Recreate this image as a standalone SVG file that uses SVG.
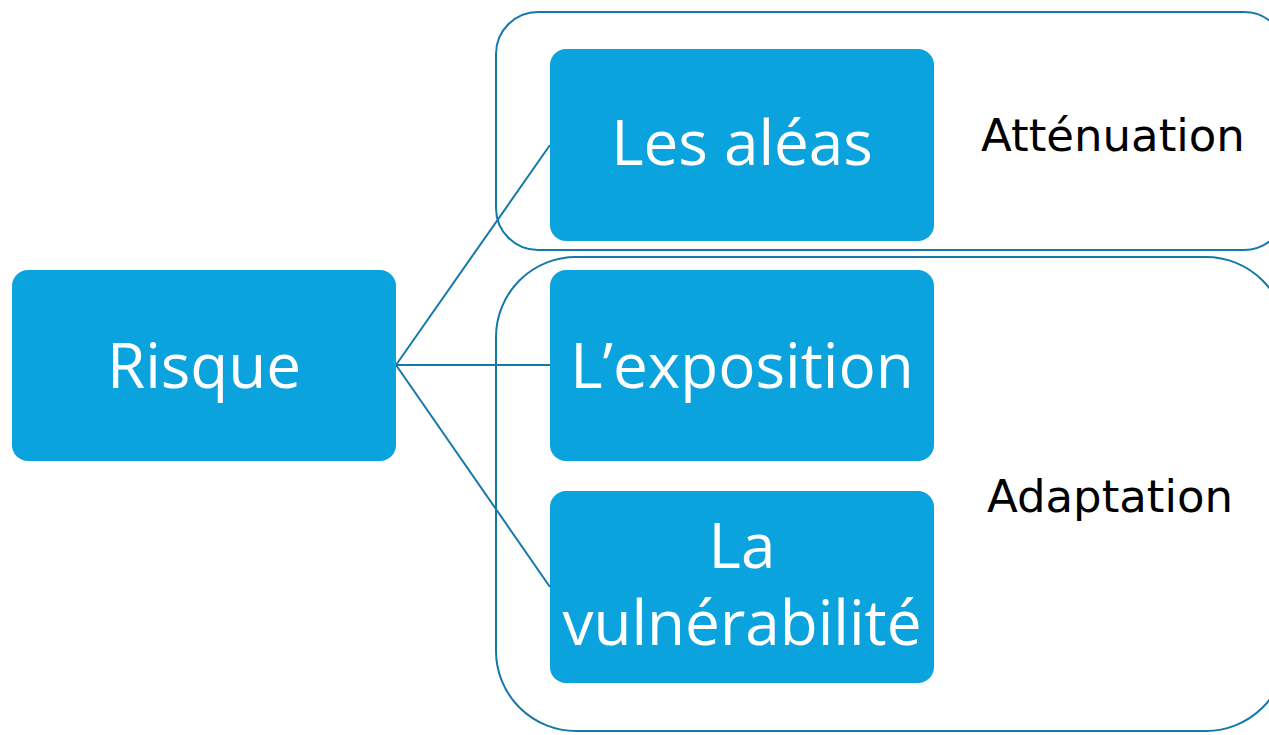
<svg xmlns="http://www.w3.org/2000/svg" width="1269" height="735" viewBox="0 0 1269 735">
<style>
.grp{fill:none;stroke:#1479A8;stroke-width:2}
.node{fill:#0BA3DE}
.nt{fill:#fff;font-family:"Open Sans","Noto Sans",sans-serif;font-size:62px;text-anchor:middle}
.gt{fill:#000;font-family:"DejaVu Sans",sans-serif;font-size:45px;text-anchor:middle}
.conn{stroke:#1479A8;stroke-width:2;fill:none}
</style>
<rect fill="#fff" width="1269" height="735"/>
<g id="group-attenuation">
<rect class="grp" x="496" y="12" width="790" height="238" rx="42"/>
<text class="gt" x="1113" y="151">Atténuation</text>
</g>
<g id="group-adaptation">
<rect class="grp" x="496" y="257" width="790" height="474" rx="80"/>
<text class="gt" x="1110" y="512">Adaptation</text>
</g>
<g id="connectors">
<line class="conn" x1="396" y1="365" x2="550" y2="145"/>
<line class="conn" x1="396" y1="365" x2="550" y2="365"/>
<line class="conn" x1="396" y1="365" x2="550" y2="587"/>
</g>
<g id="risque">
<rect class="node" x="12" y="270" width="384" height="191" rx="16"/>
<text class="nt" x="204" y="388">Risque</text>
</g>
<g id="aleas">
<rect class="node" x="550" y="49" width="384" height="192" rx="16"/>
<text class="nt" x="742" y="165">Les aléas</text>
</g>
<g id="exposition">
<rect class="node" x="550" y="270" width="384" height="191" rx="16"/>
<text class="nt" x="742" y="388">L’exposition</text>
</g>
<g id="vulnerabilite">
<rect class="node" x="550" y="491" width="384" height="192" rx="16"/>
<text class="nt" x="742" y="568">La</text>
<text class="nt" x="742" y="645">vulnérabilité</text>
</g>
</svg>
